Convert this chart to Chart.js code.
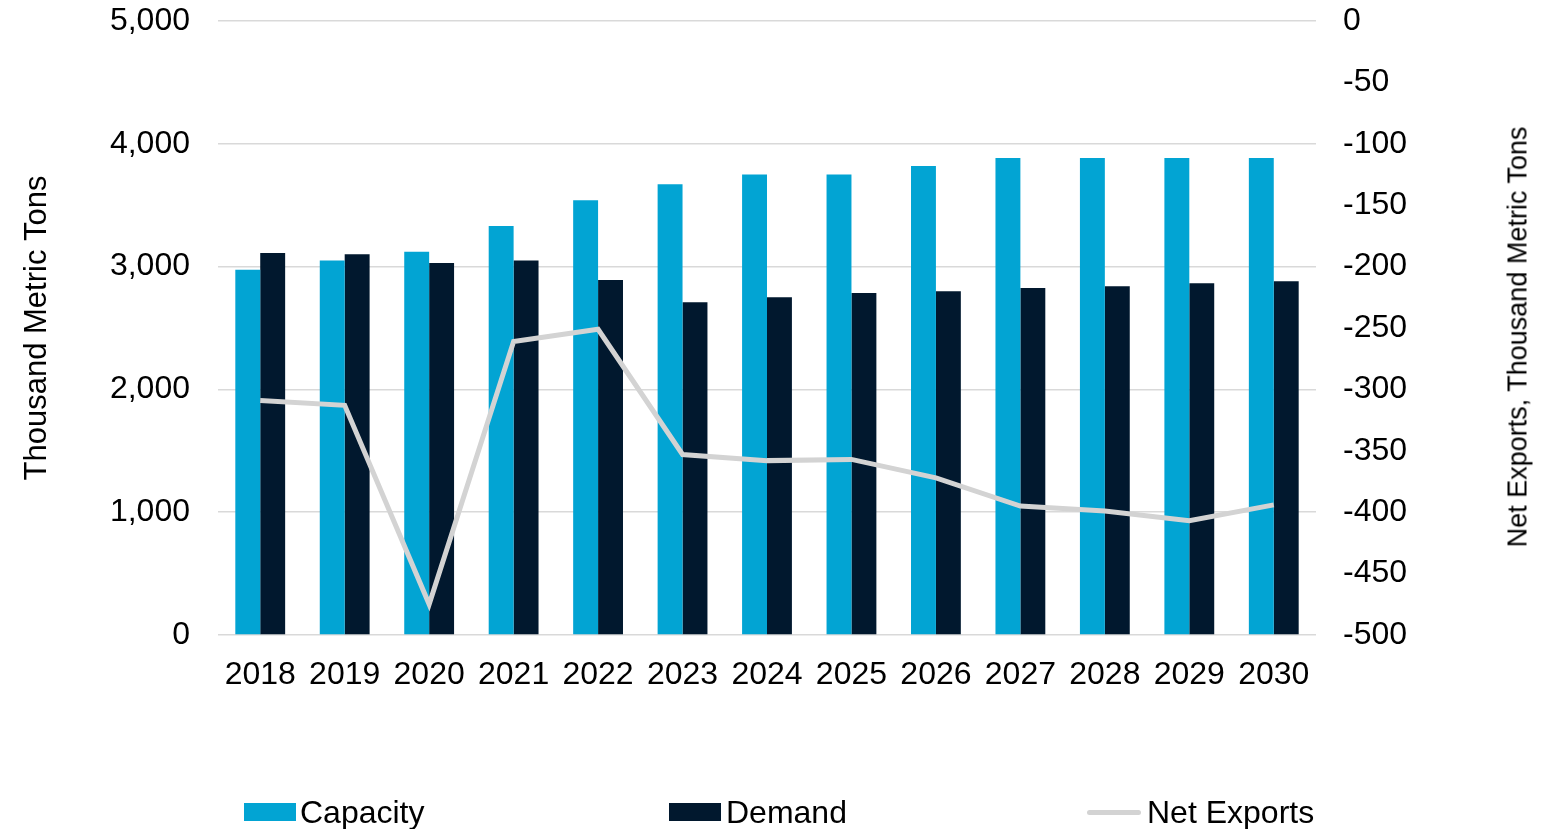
<!DOCTYPE html>
<html>
<head>
<meta charset="utf-8">
<script src="https://cdn.jsdelivr.net/npm/chart.js@4/dist/chart.umd.min.js"></script>
<style>
  html, body { margin: 0; padding: 0; background: #fff; }
  #wrap { position: relative; width: 1555px; height: 829px; font-family: "Liberation Sans", Arial, sans-serif; }
  #wrap canvas { position: absolute; left: 0; top: 0; }
  .lg { position: absolute; top: 793px; font-size: 32px; color: #000; line-height: 38px; white-space: nowrap; }
  .lg .sw { position: absolute; }
  #rtitle { position: absolute; left: 1518px; top: 337px; font-size: 27px; color: #000; white-space: nowrap;
            transform: translate(-50%, -50%) rotate(-90deg); }
</style>
</head>
<body>
<div id="wrap">
  <canvas id="chart0" width="1555" height="829"></canvas>
  <div id="rtitle">Net Exports, Thousand Metric Tons</div>
  <div class="lg" style="left:244px"><span class="sw" style="left:0;top:10px;width:52px;height:18px;background:#02a4d3"></span><span style="margin-left:56px">Capacity</span></div>
  <div class="lg" style="left:669px"><span class="sw" style="left:0;top:10px;width:52px;height:18px;background:#01182e"></span><span style="margin-left:57px">Demand</span></div>
  <div class="lg" style="left:1087px"><span class="sw" style="left:0;top:17px;width:54px;height:5px;border-radius:3px;background:#d3d3d3"></span><span style="margin-left:60px">Net Exports</span></div>
</div>
<script>
/** Data **/
const years = ["2018", "2019", "2020", "2021", "2022", "2023", "2024", "2025", "2026", "2027", "2028", "2029", "2030"];
const capacity = [2975, 3050, 3120, 3330, 3540, 3670, 3750, 3750, 3820, 3885, 3885, 3885, 3885];
const demand = [3110, 3100, 3030, 3050, 2890, 2710, 2750, 2785, 2800, 2825, 2840, 2865, 2880];
const netExports = [-309, -313, -475, -261, -251, -353, -358, -357, -372, -395, -399, -407, -394];

const textColor = "#000000";
const fontFamily = "'Liberation Sans', Arial, sans-serif";

// y axes: fixed width, no extra room for half labels at top / bottom
function fitY(width) {
    return function(scale) {
        scale.width = width;
        scale.paddingTop = 0;
        scale.paddingBottom = 0;
    };
}

var ctx = document.getElementById("chart0");
var chart = new Chart(ctx, {
    type: 'bar',
    data: {
        labels: years,
        datasets: [{
            type: 'line',
            label: "Net Exports",
            data: netExports,
            borderColor: "#d3d3d3",
            borderWidth: 5,
            pointRadius: 0,
            tension: 0,
            yAxisID: "yRight",
            order: 0
        }, {
            label: "Capacity",
            data: capacity,
            backgroundColor: "#02a4d3",
            yAxisID: "yLeft",
            categoryPercentage: 0.59,
            barPercentage: 1,
            order: 1
        }, {
            label: "Demand",
            data: demand,
            backgroundColor: "#01182e",
            yAxisID: "yLeft",
            categoryPercentage: 0.59,
            barPercentage: 1,
            order: 1
        }]
    },
    options: {
        responsive: false,
        animation: false,
        layout: { padding: { top: 21, bottom: 0, left: 0, right: 0 } },
        plugins: {
            legend: { display: false },
            tooltip: { enabled: false }
        },
        scales: {
            x: {
                grid: { display: false, drawTicks: false },
                border: { display: false },
                ticks: {
                    color: textColor,
                    font: { family: fontFamily, size: 32 },
                    padding: 21,
                    maxRotation: 0
                },
                afterFit: function(scale) { scale.height = 194; }
            },
            yLeft: {
                position: 'left',
                min: 0,
                max: 5000,
                grid: { color: "#d9d9d9", lineWidth: 1.5, drawTicks: false },
                border: { display: false },
                ticks: {
                    stepSize: 1000,
                    color: textColor,
                    font: { family: fontFamily, size: 32 },
                    padding: 28,
                    callback: function(value) { return value.toLocaleString('en-US'); }
                },
                title: {
                    display: true,
                    text: "Thousand Metric Tons",
                    color: textColor,
                    font: { family: fontFamily, size: 31 },
                    padding: { top: 19, bottom: 0 }
                },
                afterFit: fitY(218)
            },
            yRight: {
                position: 'right',
                min: -500,
                max: 0,
                grid: { display: false, drawTicks: false },
                border: { display: false },
                ticks: {
                    stepSize: 50,
                    color: textColor,
                    font: { family: fontFamily, size: 32 },
                    padding: 27
                },
                afterFit: fitY(239)
            }
        }
    }
});
</script>
</body>
</html>
